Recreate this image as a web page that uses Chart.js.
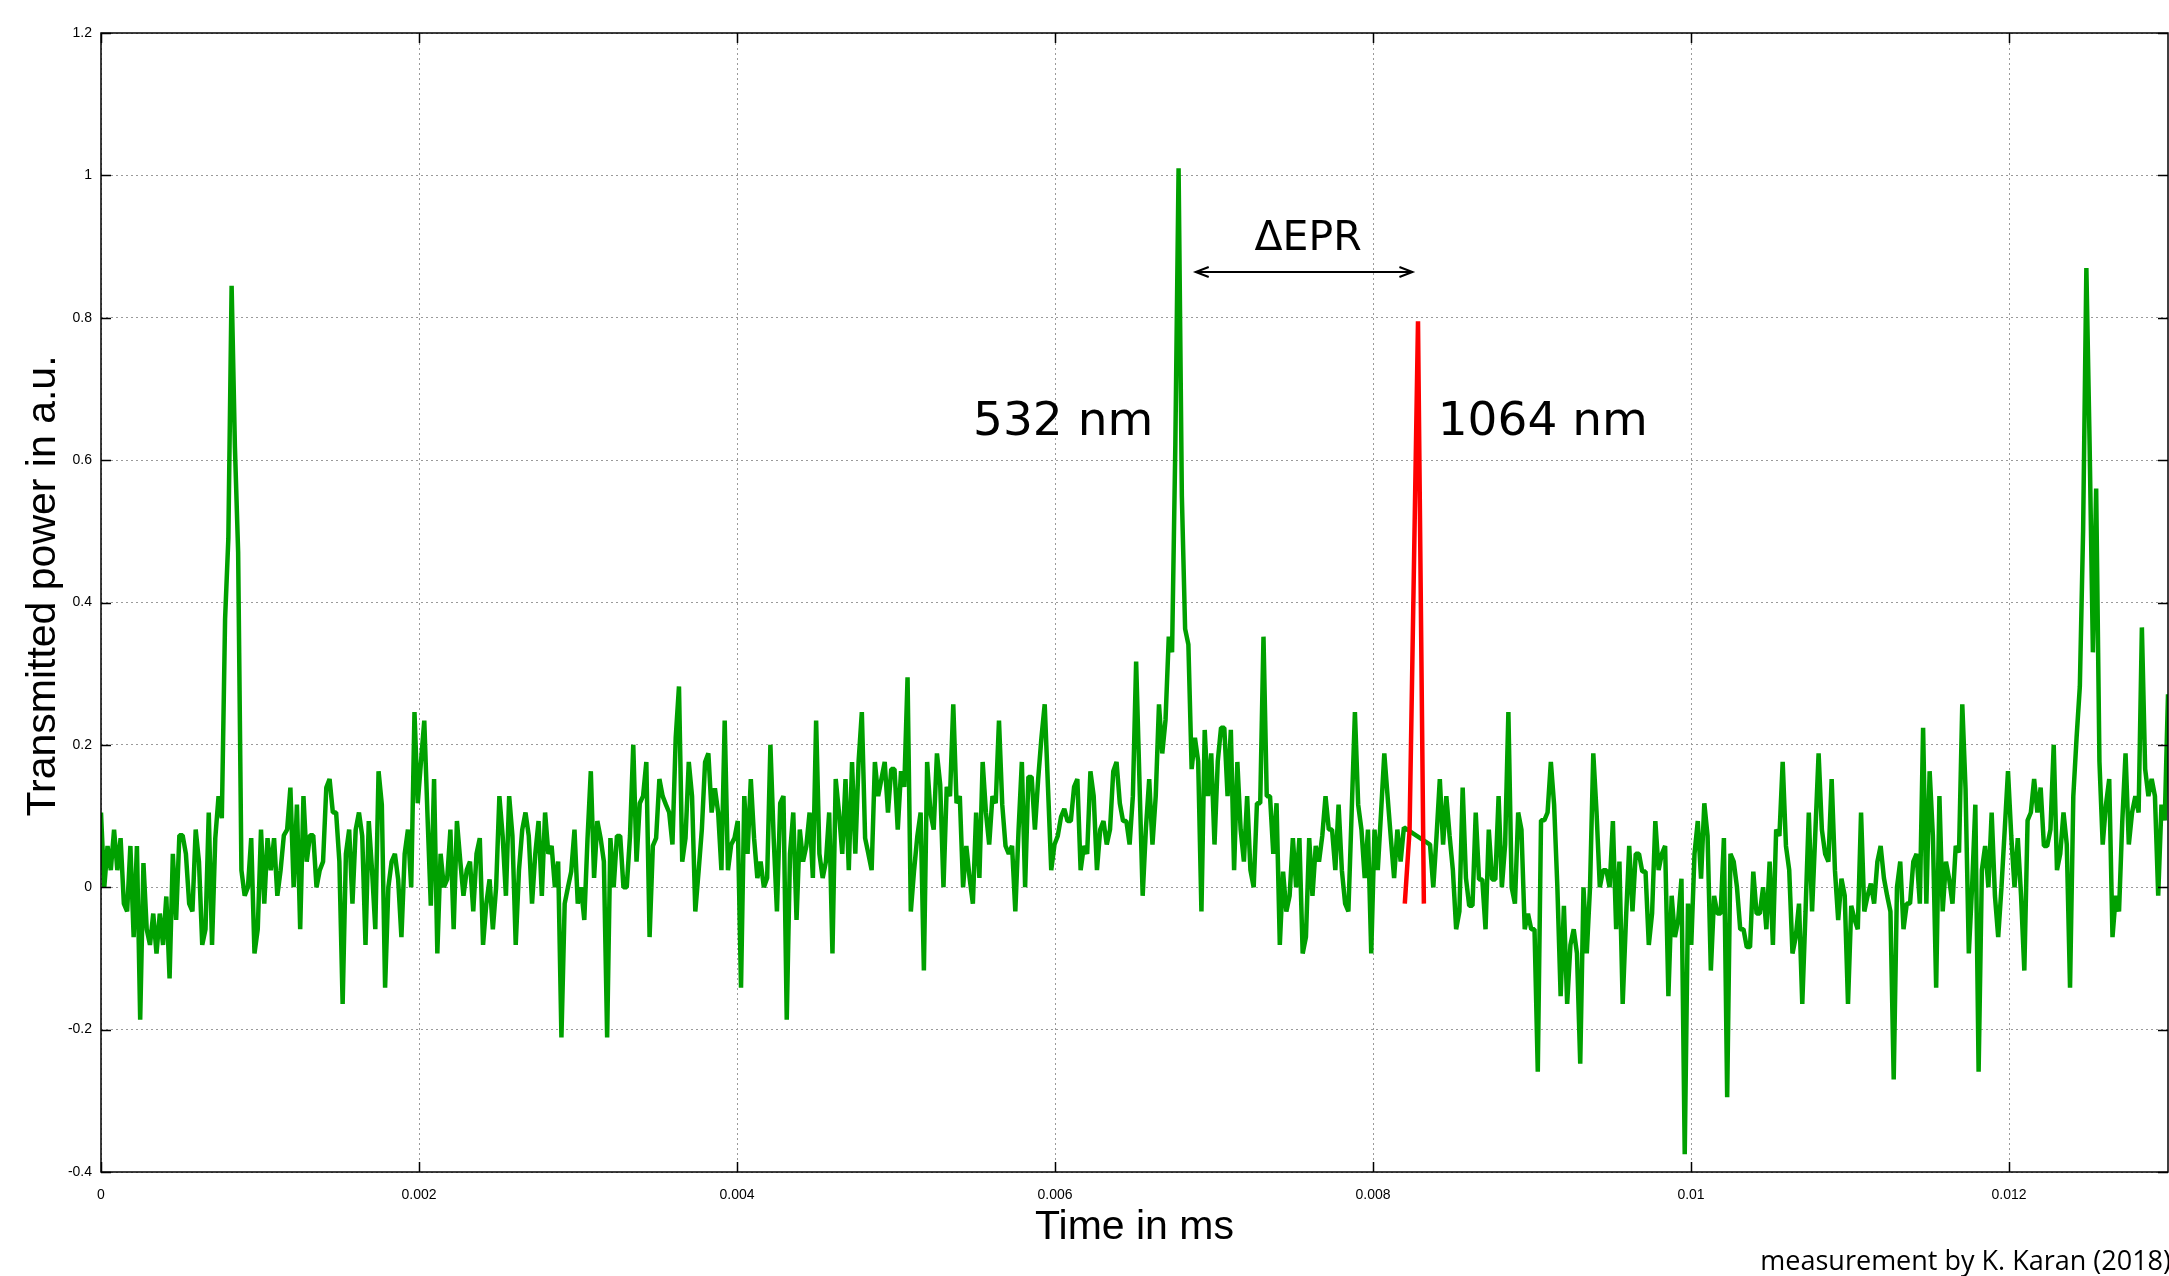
<!DOCTYPE html>
<html>
<head>
<meta charset="utf-8">
<script src="https://cdn.jsdelivr.net/npm/chart.js@4.4.1/dist/chart.umd.min.js"></script>
<style>
  html, body { margin: 0; padding: 0; background: #fff; }
  canvas { display: block; }
</style>
</head>
<body>
<canvas id="chart" width="2169" height="1276"></canvas>
<script>
// green trace (532 nm), one value per sample
// null = samples hidden behind the red peak (line is bridged across)
const green532 = [
  0.105, 0.0, 0.058, 0.024, 0.081, 0.024, 0.069, -0.023, -0.034, 0.058,
  -0.07, 0.058, -0.186, 0.034, -0.059, -0.081, -0.037, -0.093, -0.037, -0.081,
  -0.013, -0.128, 0.047, -0.046, 0.073, 0.073, 0.047, -0.023, -0.034, 0.081,
  0.036, -0.081, -0.059, 0.105, -0.081, 0.069, 0.128, 0.097,
  0.377, 0.49, 0.845, 0.62, 0.47,
  0.024, -0.012, 0.0, 0.069, -0.093, -0.059, 0.081, -0.023, 0.069, 0.024,
  0.069, -0.012, 0.024, 0.073, 0.081, 0.14, 0.0, 0.116, -0.059, 0.128,
  0.036, 0.073, 0.073, 0.0, 0.024, 0.036, 0.14, 0.152, 0.105, 0.105,
  0.036, -0.164, 0.047, 0.081, -0.023, 0.081,

  0.105, 0.072, -0.081, 0.093, 0.024, -0.059, 0.163, 0.116, -0.141, 0.0,
  0.036, 0.047, 0.011, -0.07, 0.047, 0.081, 0.0, 0.246, 0.118, 0.177,
  0.234, 0.099, -0.026, 0.152, -0.093, 0.047, 0.0, 0.011, 0.081, -0.059,
  0.093, 0.038, -0.012, 0.024, 0.036, -0.034, 0.047, 0.069, -0.081, -0.023,
  0.011, -0.059, 0.0, 0.128, 0.072, -0.012, 0.128, 0.072, -0.081, 0.024,
  0.081, 0.105, 0.072, -0.023, 0.047, 0.093, -0.012, 0.105, 0.047, 0.058,
  0.0, 0.036, -0.211, -0.023, 0.0, 0.022, 0.081, -0.023, 0.0, -0.046,
  0.069, 0.163, 0.013, 0.093, 0.069, 0.036, -0.211, 0.069, 0.0,

  0.072, 0.072, 0.0, 0.0, 0.072, 0.2, 0.036, 0.118, 0.128, 0.176,
  -0.07, 0.058, 0.069, 0.152, 0.128, 0.116, 0.105, 0.06, 0.21, 0.282,
  0.036, 0.069, 0.176, 0.128, -0.034, 0.022, 0.081, 0.176, 0.188, 0.105,
  0.139, 0.105, 0.024, 0.234, 0.024, 0.06, 0.069, 0.093, -0.141, 0.128,
  0.047, 0.152, 0.069, 0.013, 0.036, 0.0, 0.013, 0.2, 0.069, -0.034,
  0.118, 0.128, -0.186, 0.047, 0.105, -0.046, 0.081, 0.036, 0.058, 0.105,
  0.013, 0.234, 0.047, 0.013, 0.036, 0.105, -0.093, 0.152, 0.105, 0.047,
  0.152, 0.024, 0.176, 0.047, 0.176, 0.246, 0.069, 0.047, 0.024, 0.176,
  0.128,

  0.152, 0.176, 0.105, 0.166, 0.166, 0.081, 0.163, 0.141, 0.295, -0.034,
  0.024, 0.072, 0.105, -0.117, 0.176, 0.105, 0.081, 0.188, 0.144, 0.0,
  0.141, 0.128, 0.257, 0.118, 0.128, 0.0, 0.058, 0.013, -0.023, 0.105,
  0.013, 0.176, 0.105, 0.06, 0.128, 0.118, 0.234, 0.116, 0.058, 0.047,
  0.058, -0.034, 0.081, 0.176, 0.0, 0.155, 0.155, 0.081, 0.152, 0.21,
  0.257, 0.141, 0.024, 0.06, 0.072, 0.099, 0.11, 0.093, 0.093, 0.141,
  0.152, 0.024, 0.058, 0.047, 0.163, 0.128, 0.024, 0.081, 0.093, 0.06,
  0.081, 0.163, 0.176, 0.118, 0.093, 0.093, 0.06, 0.128, 0.317, 0.152,
  -0.012,

  0.083, 0.152, 0.06, 0.128, 0.257, 0.188, 0.235, 0.352, 0.33, 0.62,
  1.01, 0.55, 0.363, 0.341, 0.166, 0.21, 0.177, -0.034, 0.221, 0.128,
  0.188, 0.06, 0.177, 0.224, 0.224, 0.128, 0.221, 0.024, 0.176, 0.081,
  0.036, 0.128, 0.024, 0.0, 0.118, 0.118, 0.352, 0.128, 0.128, 0.047,
  0.118, -0.081, 0.022, -0.034, -0.012, 0.069, 0.0, 0.069, -0.093, -0.07,
  0.069, -0.012, 0.058, 0.036, 0.072, 0.128, 0.081, 0.081, 0.024, 0.116,
  0.024, -0.023, -0.034, 0.105, 0.246, 0.116, 0.081, 0.013, 0.081, -0.093,
  0.081, 0.024, 0.105, 0.188, 0.128, 0.069, 0.013, 0.081, 0.036,

  0.084, null, null, null, null, null, null, null,
  0.06, 0.0, 0.072, 0.152, 0.06, 0.128, 0.072, 0.024, -0.059, -0.034,
  0.14, 0.013, -0.026, -0.026, 0.105, 0.011, 0.011, -0.059, 0.081, 0.011,
  0.011, 0.128, 0.0, 0.06, 0.246, 0.0, -0.023, 0.105, 0.081, -0.059,
  -0.037, -0.059, -0.059, -0.259, 0.094, 0.094, 0.105, 0.176, 0.116, 0.0,
  -0.153, -0.026, -0.164, -0.081, -0.059, -0.093, -0.248, 0.0, -0.093, 0.0,
  0.188, 0.105, 0.0, 0.024, 0.024, 0.0, 0.093, -0.059, 0.036, -0.164,
  -0.046, 0.058, -0.034, 0.047, 0.047, 0.022, 0.022, -0.081, -0.037, 0.093,
  0.024, 0.047,

  0.058, -0.153, -0.012, -0.07, -0.046, 0.012, -0.375, -0.023, -0.081, 0.047,
  0.093, 0.012, 0.118, 0.072, -0.117, -0.012, -0.037, -0.037, 0.069, -0.295,
  0.047, 0.036, 0.0, -0.059, -0.059, -0.084, -0.084, 0.022, -0.037, -0.037,
  0.0, -0.059, 0.036, -0.081, 0.081, 0.072, 0.176, 0.058, 0.024, -0.093,
  -0.07, -0.023, -0.164, -0.034, 0.105, -0.034, 0.077, 0.188, 0.081, 0.047,
  0.036, 0.152, 0.024, -0.046, 0.012, -0.012, -0.164, -0.026, -0.045, -0.059,
  0.105, -0.034, -0.012, 0.005, -0.023, 0.036, 0.058, 0.013, -0.012, -0.034,
  -0.27, 0.0, 0.036, -0.059, -0.023, -0.023, 0.036, 0.047, -0.023, 0.224,

  -0.023, 0.163, 0.072, -0.141, 0.128, -0.034, 0.036, 0.011, -0.023, 0.058,
  0.049, 0.257, 0.138, -0.093, 0.0, 0.116, -0.259, 0.024, 0.058, 0.0,
  0.105, -0.012, -0.07, 0.0, 0.081, 0.163, 0.072, 0.0, 0.069, -0.012,
  -0.117, 0.094, 0.105, 0.152, 0.105, 0.14, 0.058, 0.058, 0.081, 0.2,
  0.024, 0.047, 0.105, 0.06, -0.141, 0.128, 0.21, 0.282, 0.5, 0.87,
  0.62, 0.33, 0.56, 0.177, 0.06, 0.116, 0.152, -0.07, -0.012, -0.034,
  0.093, 0.188, 0.06, 0.105, 0.128, 0.105, 0.365, 0.166, 0.128, 0.152,
  0.128, -0.012, 0.116, 0.094, 0.271
]

// red trace (1064 nm), only the few samples around its peak
const red1064Times = [0.0082, 0.00823, 0.008283, 0.00832]
const red1064Values = [-0.023, 0.08, 0.795, -0.023]

// axes
const X_MAX = 0.013
const X_STEP = 0.002
const Y_MIN = -0.4
const Y_MAX = 1.2
const Y_STEP = 0.2

// the trace is sampled evenly over the whole window
const SAMPLE_DT = X_MAX / (green532.length - 1)

const AXIS_FONT = 'Liberation Sans'
const LABEL_FONT = 'DejaVu Sans'

// gnuplot-like frame with inward ticks on all four sides, plus the labels
const framePlugin = {
  id: 'frame',
  afterDatasetsDraw(chart) {
    const { ctx, chartArea: a } = chart
    const xs = chart.scales.x
    const ys = chart.scales.y
    ctx.save()
    ctx.strokeStyle = '#000'
    ctx.lineWidth = 1.5
    ctx.strokeRect(a.left, a.top, a.right - a.left, a.bottom - a.top)
    ctx.beginPath()
    ys.ticks.forEach((t) => {
      const y = Math.round(ys.getPixelForValue(t.value)) + 0.5
      ctx.moveTo(a.left, y); ctx.lineTo(a.left + 10, y)
      ctx.moveTo(a.right, y); ctx.lineTo(a.right - 10, y)
    })
    xs.ticks.forEach((t) => {
      const x = Math.round(xs.getPixelForValue(t.value)) + 0.5
      ctx.moveTo(x, a.bottom); ctx.lineTo(x, a.bottom - 10)
      ctx.moveTo(x, a.top); ctx.lineTo(x, a.top + 10)
    })
    ctx.stroke()
    ctx.restore()
  },
  afterDraw(chart) {
    const { ctx } = chart
    const xs = chart.scales.x
    const ys = chart.scales.y
    ctx.save()
    ctx.fillStyle = '#000'
    ctx.textBaseline = 'alphabetic'

    // y axis title, a bit above the middle of the plot like the original
    ctx.save()
    ctx.translate(44, 586)
    ctx.rotate(-Math.PI / 2)
    ctx.textAlign = 'center'
    ctx.textBaseline = 'middle'
    ctx.font = '41px "' + AXIS_FONT + '"'
    ctx.fillText('Transmitted power in a.u.', 0, 0)
    ctx.restore()

    ctx.font = '47px "' + LABEL_FONT + '"'
    ctx.textAlign = 'right'
    ctx.fillText('532 nm', xs.getPixelForValue(0.006618), ys.getPixelForValue(0.635))
    ctx.textAlign = 'left'
    ctx.fillText('1064 nm', xs.getPixelForValue(0.008407), ys.getPixelForValue(0.635))

    ctx.font = '41px "' + LABEL_FONT + '"'
    ctx.textAlign = 'center'
    ctx.fillText('\u0394EPR', xs.getPixelForValue(0.007592), ys.getPixelForValue(0.8946))

    // double headed arrow between the two peaks
    const x1 = xs.getPixelForValue(0.006885)
    const x2 = xs.getPixelForValue(0.008248)
    const y = Math.round(ys.getPixelForValue(0.864))
    ctx.strokeStyle = '#000'
    ctx.lineWidth = 2
    ctx.beginPath()
    ctx.moveTo(x1, y); ctx.lineTo(x2, y)
    ctx.moveTo(x1 + 13, y - 5); ctx.lineTo(x1, y); ctx.lineTo(x1 + 13, y + 5)
    ctx.moveTo(x2 - 13, y - 5); ctx.lineTo(x2, y); ctx.lineTo(x2 - 13, y + 5)
    ctx.stroke()

    ctx.font = '27px "Open Sans"'
    ctx.textAlign = 'right'
    ctx.fillText('measurement by K. Karan (2018)', chart.width + 2, 1270)
    ctx.restore()
  }
}

const ctx = document.getElementById('chart')

const data = {
  datasets: [
    {
      label: '1064 nm',
      data: red1064Times.map((t, i) => ({ x: t, y: red1064Values[i] })),
      borderColor: '#ff0000',
      borderWidth: 4.5,
      borderJoinStyle: 'bevel',
      pointRadius: 0,
      tension: 0
    },
    {
      label: '532 nm',
      data: green532.map((v, i) => ({ x: i * SAMPLE_DT, y: v })),
      borderColor: '#00a000',
      borderWidth: 4.5,
      borderJoinStyle: 'bevel',
      pointRadius: 0,
      tension: 0,
      spanGaps: true
    }
  ]
}

const config = {
  type: 'line',
  data: data,
  options: {
    responsive: false,
    devicePixelRatio: 1,
    animation: false,
    parsing: false,
    layout: { padding: { top: 33, right: 1, left: 0, bottom: 0 } },
    plugins: {
      legend: { display: false },
      tooltip: { enabled: false }
    },
    scales: {
      x: {
        type: 'linear',
        min: 0,
        max: X_MAX,
        afterBuildTicks: (scale) => {
          scale.ticks = scale.ticks.filter((t) => t.value < X_MAX - X_STEP / 4)
        },
        afterFit: (scale) => { scale.height = 104 },
        ticks: {
          stepSize: X_STEP,
          autoSkip: false,
          maxRotation: 0,
          padding: 15,
          color: '#000',
          font: { family: AXIS_FONT, size: 14 },
          callback: (v) => String(+v.toFixed(4))
        },
        grid: { color: '#9a9a9a', lineWidth: 1, drawTicks: false },
        border: { display: false, dash: [2, 3] },
        title: {
          display: true,
          text: 'Time in ms',
          color: '#000',
          font: { family: AXIS_FONT, size: 41 },
          padding: { top: 0, bottom: 24 }
        }
      },
      y: {
        min: Y_MIN,
        max: Y_MAX,
        afterFit: (scale) => { scale.width = 101 },
        ticks: {
          stepSize: Y_STEP,
          autoSkip: false,
          padding: 9,
          color: '#000',
          font: { family: AXIS_FONT, size: 14 },
          callback: (v) => String(+v.toFixed(2))
        },
        grid: { color: '#9a9a9a', lineWidth: 1, drawTicks: false },
        border: { display: false, dash: [2, 3] }
      }
    }
  },
  plugins: [framePlugin]
}

new Chart(ctx, config)
</script>
</body>
</html>
